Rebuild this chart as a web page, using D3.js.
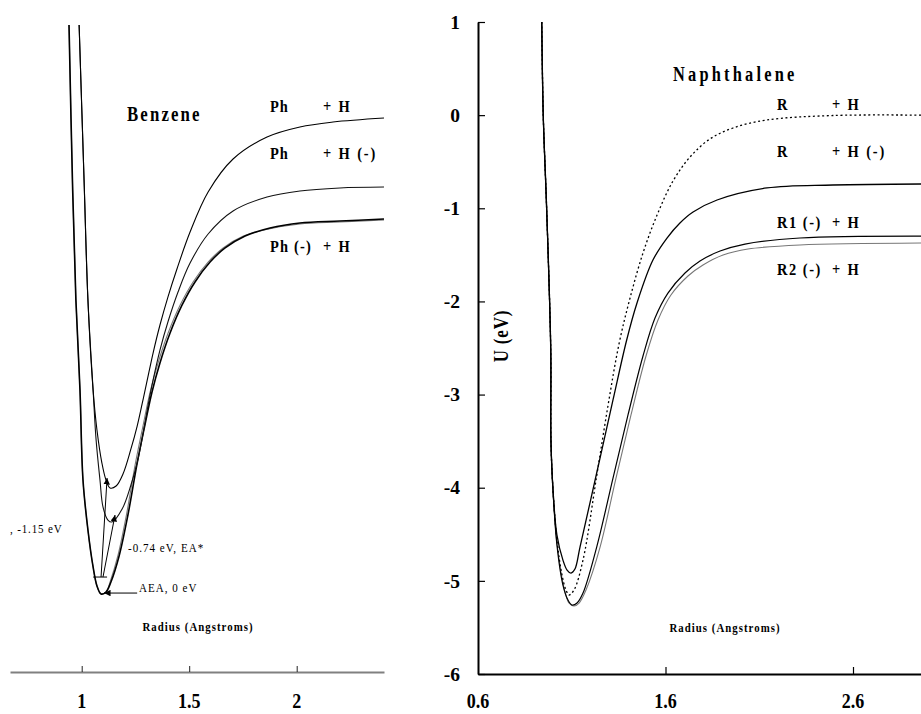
<!DOCTYPE html>
<html>
<head>
<meta charset="utf-8">
<script src="https://cdn.jsdelivr.net/npm/d3@7"></script>
<style>
  html, body { margin: 0; padding: 0; background: #fff; }
  svg { display: block; }
</style>
</head>
<body>
<svg id="chart" width="921" height="714"></svg>
<script>
// ---------- data: potential energy curves, radius (Angstroms) vs U (eV) ----------
const energyTicks = [1, 0, -1, -2, -3, -4, -5, -6];
const benzeneRadiusTicks = [1, 1.5, 2];
const naphRadiusTicks = [0.6, 1.6, 2.6];

// Benzene
const phPlusH = [
  [0.988, 0.968], [1.011, -0.696], [1.029, -1.985], [1.053, -2.951], [1.071, -3.380],
  [1.094, -3.735], [1.113, -3.917], [1.132, -4.003], [1.160, -3.982], [1.192, -3.853],
  [1.229, -3.584], [1.258, -3.338], [1.281, -3.101], [1.304, -2.854], [1.332, -2.554],
  [1.364, -2.253], [1.401, -1.953], [1.443, -1.652], [1.504, -1.255], [1.588, -0.825],
  [1.704, -0.471], [1.862, -0.235], [2.015, -0.127], [2.169, -0.074], [2.406, -0.031]
];
const phPlusHanion = [
  [0.988, 0.968], [1.011, -0.696], [1.029, -1.985], [1.053, -2.951], [1.067, -3.488],
  [1.085, -3.917], [1.099, -4.207], [1.122, -4.347], [1.141, -4.368], [1.188, -4.229],
  [1.229, -3.971], [1.262, -3.692], [1.286, -3.413], [1.309, -3.112], [1.332, -2.844],
  [1.364, -2.522], [1.401, -2.221], [1.448, -1.899], [1.504, -1.588], [1.588, -1.276],
  [1.704, -1.029], [1.862, -0.879], [2.015, -0.814], [2.201, -0.782], [2.406, -0.772]
];
const phAnionPlusH = [
  [0.941, 0.968], [0.958, -0.804], [0.973, -1.985], [0.992, -2.951], [1.006, -3.917],
  [1.029, -4.454], [1.053, -4.851], [1.071, -5.055], [1.090, -5.141], [1.113, -5.120],
  [1.136, -5.012], [1.174, -4.733], [1.215, -4.293], [1.258, -3.735], [1.294, -3.327],
  [1.327, -2.973], [1.364, -2.661], [1.411, -2.339], [1.467, -2.038], [1.527, -1.791],
  [1.597, -1.577], [1.667, -1.426], [1.760, -1.298], [1.876, -1.212], [2.015, -1.158],
  [2.201, -1.137], [2.406, -1.115]
];
const phAnionPlusHb = [
  [0.941, 0.968], [0.958, -0.804], [0.973, -1.985], [0.992, -2.951], [1.006, -3.917],
  [1.029, -4.454], [1.053, -4.851], [1.071, -5.055], [1.090, -5.141], [1.113, -5.120],
  [1.132, -5.012], [1.168, -4.733], [1.208, -4.293], [1.250, -3.735], [1.286, -3.327],
  [1.318, -2.973], [1.355, -2.661], [1.402, -2.339], [1.458, -2.038], [1.518, -1.791],
  [1.588, -1.577], [1.658, -1.426], [1.752, -1.298], [1.870, -1.222], [2.015, -1.168],
  [2.201, -1.147], [2.406, -1.126]
];
// vertical transitions from the anion well and the adiabatic marker
const vibLevel = { x0: 1.053, x1: 1.118, u: -4.959 };
const transitions = [
  { x0: 1.090, u0: -4.959, x1: 1.118, u1: -3.896 },
  { x0: 1.099, u0: -4.959, x1: 1.155, u1: -4.293 }
];
const aeaPointer = { x0: 1.258, x1: 1.104, u: -5.131 };

// Naphthalene
const rPlusH = [
  [0.940, 1.0], [0.948, 0.0], [0.966, -0.997], [0.988, -2.522], [0.989, -3.488],
  [1.000, -4.025], [1.021, -4.562], [1.048, -4.937], [1.069, -5.098], [1.085, -5.152],
  [1.112, -5.098], [1.160, -4.777], [1.233, -3.874], [1.293, -3.123], [1.352, -2.457],
  [1.411, -1.963], [1.480, -1.480], [1.555, -1.072], [1.640, -0.707], [1.731, -0.449],
  [1.837, -0.256], [1.960, -0.138], [2.141, -0.052], [2.493, -0.004], [2.963, 0.0]
];
const rPlusHanion = [
  [0.940, 1.0], [0.948, 0.0], [0.966, -0.997], [0.988, -2.522], [0.989, -3.488],
  [1.000, -4.025], [1.021, -4.508], [1.053, -4.777], [1.075, -4.884], [1.096, -4.916],
  [1.117, -4.873], [1.144, -4.637], [1.233, -3.842], [1.320, -3.058], [1.393, -2.414],
  [1.448, -2.017], [1.533, -1.556], [1.608, -1.320], [1.677, -1.158], [1.747, -1.040],
  [1.875, -0.911], [2.141, -0.782], [2.493, -0.750], [2.963, -0.739]
];
const r1AnionPlusH = [
  [0.940, 1.0], [0.948, 0.0], [0.966, -0.997], [0.988, -2.522], [0.989, -3.488],
  [1.000, -4.025], [1.021, -4.615], [1.053, -5.045], [1.080, -5.206], [1.101, -5.259],
  [1.128, -5.238], [1.160, -5.131], [1.233, -4.637], [1.320, -3.896], [1.400, -3.219],
  [1.480, -2.586], [1.544, -2.178], [1.613, -1.910], [1.704, -1.695], [1.784, -1.566],
  [1.891, -1.459], [2.024, -1.384], [2.317, -1.319], [2.963, -1.298]
];
const r2AnionPlusH = [
  [0.940, 1.0], [0.948, 0.0], [0.966, -0.997], [0.988, -2.522], [0.989, -3.488],
  [1.000, -4.025], [1.021, -4.594], [1.059, -5.077], [1.085, -5.238], [1.112, -5.270],
  [1.139, -5.238], [1.176, -5.098], [1.251, -4.637], [1.336, -3.896], [1.416, -3.219],
  [1.496, -2.586], [1.560, -2.199], [1.629, -1.931], [1.720, -1.727], [1.800, -1.609],
  [1.907, -1.502], [2.040, -1.437], [2.317, -1.394], [2.963, -1.373]
];

// ---------- layout ----------
const svg = d3.select("#chart");
const SERIF = "'Liberation Serif', 'Times New Roman', serif";

const yU = d3.scaleLinear().domain([-6, 1]).range([674, 22]);
const xBenz = d3.scaleLinear().domain([1, 2]).range([81.7, 296.7]);
const xNaph = d3.scaleLinear().domain([0.6, 2.6]).range([478, 853]);

function label(x, y, str, o = {}) {
  return svg.append("text")
    .attr("transform", `translate(${x},${y})${o.rotate ? ` rotate(${o.rotate})` : ""} scale(${o.sx ?? 0.85},1)`)
    .attr("text-anchor", o.anchor || "start")
    .style("font-family", SERIF)
    .style("font-size", (o.size || 16) + "px")
    .style("font-weight", o.weight || "bold")
    .style("letter-spacing", (o.ls ?? 1) + "px")
    .attr("fill", o.fill || "#000")
    .text(str);
}

function curve(xs, data, style) {
  const line = d3.line()
    .x(d => xs(d[0]))
    .y(d => yU(d[1]))
    .curve(d3.curveCatmullRom.alpha(0.5));
  svg.append("path")
    .datum(data)
    .attr("d", line)
    .attr("fill", "none")
    .attr("stroke", style.stroke || "#000")
    .attr("stroke-width", style.width || 1.2)
    .attr("stroke-dasharray", style.dash || null)
    .attr("stroke-linejoin", "round");
}

// ---------- Benzene panel ----------
const benzAxis = svg.append("g")
  .attr("transform", "translate(0,672)")
  .call(d3.axisBottom(d3.scaleLinear().domain([xBenz.invert(10), xBenz.invert(384)]).range([10, 384]))
    .tickValues(benzeneRadiusTicks).tickSize(-6).tickSizeOuter(0).tickFormat(""));
benzAxis.select(".domain").attr("stroke", "#808080").attr("stroke-width", 2.2);
benzAxis.selectAll(".tick line").attr("stroke", "#222").attr("stroke-width", 1);

benzeneRadiusTicks.forEach(v => label(xBenz(v), 708, String(v), { size: 22, sx: 0.82, ls: 0, anchor: "middle" }));

curve(xBenz, phAnionPlusHb, { stroke: "#777", width: 1.1 });
curve(xBenz, phAnionPlusH, { stroke: "#000", width: 1.6 });
curve(xBenz, phPlusHanion, { stroke: "#111", width: 1.1 });
curve(xBenz, phPlusH, { stroke: "#000", width: 1.1 });

// arrowheads
const defs = svg.append("defs");
defs.append("marker")
  .attr("id", "head")
  .attr("viewBox", "0 0 10 10")
  .attr("refX", 10).attr("refY", 5)
  .attr("markerWidth", 6.5).attr("markerHeight", 6.5)
  .attr("markerUnits", "userSpaceOnUse")
  .attr("orient", "auto")
  .append("path").attr("d", "M0,0 L10,5 L0,10 Z").attr("fill", "#000");

svg.append("line")
  .attr("x1", xBenz(vibLevel.x0)).attr("x2", xBenz(vibLevel.x1))
  .attr("y1", yU(vibLevel.u)).attr("y2", yU(vibLevel.u))
  .attr("stroke", "#000").attr("stroke-width", 1);

transitions.forEach(t => {
  svg.append("line")
    .attr("x1", xBenz(t.x0)).attr("y1", yU(t.u0))
    .attr("x2", xBenz(t.x1)).attr("y2", yU(t.u1))
    .attr("stroke", "#000").attr("stroke-width", 1)
    .attr("marker-end", "url(#head)");
});
svg.append("line")
  .attr("x1", xBenz(aeaPointer.x0)).attr("y1", yU(aeaPointer.u))
  .attr("x2", xBenz(aeaPointer.x1)).attr("y2", yU(aeaPointer.u))
  .attr("stroke", "#000").attr("stroke-width", 1)
  .attr("marker-end", "url(#head)");

label(127, 121, "Benzene", { size: 20.5, sx: 0.82, ls: 2.6 });
label(270, 112, "Ph", { size: 17, sx: 0.85, ls: 1 });
label(323, 112, "+ H", { size: 17, sx: 0.85, ls: 2.2 });
label(270, 159, "Ph", { size: 17, sx: 0.85, ls: 1 });
label(323, 159, "+ H (-)", { size: 17, sx: 0.85, ls: 2.2 });
label(270, 252, "Ph (-)", { size: 17, sx: 0.85, ls: 1.4 });
label(323, 252, "+ H", { size: 17, sx: 0.85, ls: 2.2 });

label(10, 533, ", -1.15 eV", { size: 13, weight: "normal", sx: 0.85, ls: 1 });
label(128, 552, "-0.74 eV, EA*", { size: 13, weight: "normal", sx: 0.85, ls: 1.2 });
label(139, 592, "AEA, 0 eV", { size: 13, weight: "normal", sx: 0.85, ls: 1.2 });
label(198, 631, "Radius (Angstroms)", { size: 13.5, sx: 0.8, ls: 1.3, anchor: "middle" });

// ---------- Naphthalene panel ----------
const naphY = svg.append("g")
  .attr("transform", "translate(478,0)")
  .call(d3.axisLeft(yU).tickValues(energyTicks).tickSize(-7).tickSizeOuter(0).tickPadding(18)
    .tickFormat(d => String(d)));
naphY.select(".domain").attr("stroke", "#000").attr("stroke-width", 2);
naphY.selectAll(".tick line").attr("stroke", "#000").attr("stroke-width", 1.2);
naphY.selectAll(".tick text")
  .style("font-family", SERIF).style("font-size", "19.5px").style("font-weight", "bold")
  .attr("fill", "#000");

const naphX = svg.append("g")
  .attr("transform", "translate(0,674)")
  .call(d3.axisBottom(d3.scaleLinear().domain([0.6, xNaph.invert(921)]).range([478, 921]))
    .tickValues(naphRadiusTicks.slice(1)).tickSize(-7).tickSizeOuter(0).tickFormat(""));
naphX.select(".domain").attr("stroke", "#000").attr("stroke-width", 2);
naphX.selectAll(".tick line").attr("stroke", "#000").attr("stroke-width", 1.2);

naphRadiusTicks.forEach(v => label(xNaph(v), 708, v.toFixed(1), { size: 22, sx: 0.82, ls: 0, anchor: "middle" }));

curve(xNaph, r2AnionPlusH, { stroke: "#777", width: 1.1 });
curve(xNaph, r1AnionPlusH, { stroke: "#000", width: 1.2 });
curve(xNaph, rPlusHanion, { stroke: "#000", width: 1.3 });
curve(xNaph, rPlusH, { stroke: "#000", width: 1.3, dash: "2,2.6" });

label(673, 81, "Naphthalene", { size: 20.5, sx: 0.8, ls: 4 });
label(777, 110, "R", { size: 17, sx: 0.85, ls: 2 });
label(832, 110, "+ H", { size: 17, sx: 0.85, ls: 2.2 });
label(777, 157, "R", { size: 17, sx: 0.85, ls: 2 });
label(832, 157, "+ H (-)", { size: 17, sx: 0.85, ls: 2.2 });
label(777, 228, "R1 (-)", { size: 17, sx: 0.85, ls: 1.8 });
label(832, 228, "+ H", { size: 17, sx: 0.85, ls: 2.2 });
label(777, 275, "R2 (-)", { size: 17, sx: 0.85, ls: 1.8 });
label(832, 275, "+ H", { size: 17, sx: 0.85, ls: 2.2 });

label(508, 336, "U (eV)", { size: 20, sx: 0.85, ls: 1, anchor: "middle", rotate: -90 });
label(725, 632, "Radius (Angstroms)", { size: 13.5, sx: 0.8, ls: 1.3, anchor: "middle" });
</script>
</body>
</html>
